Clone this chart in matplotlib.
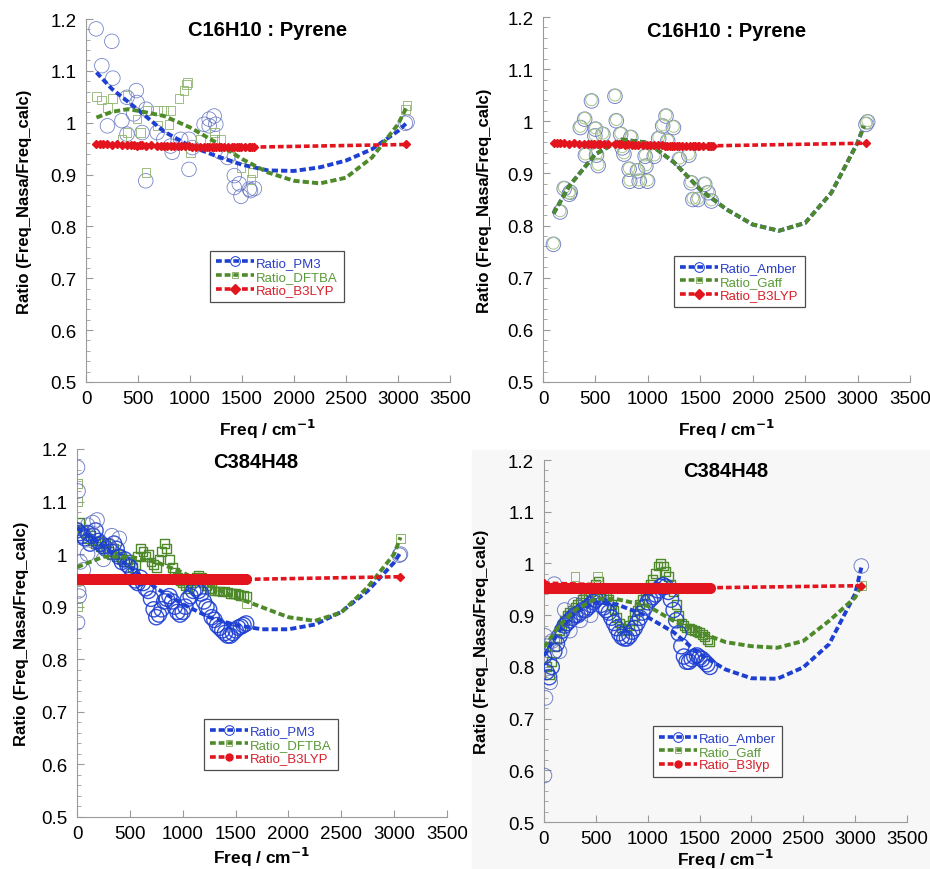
import matplotlib
matplotlib.use("Agg")
import matplotlib.pyplot as plt
from matplotlib.lines import Line2D
from matplotlib.patches import Rectangle
from matplotlib.ticker import MultipleLocator, FormatStrFormatter

plt.rcParams["font.family"] = ["Liberation Sans", "DejaVu Sans"]

BLUE = "#1d3fd2"
GREEN = "#4e8a2a"
RED = "#e3141e"
PALE_GREEN = "#8fb46e"

# ---------------- top-left: C16H10 Pyrene, PM3 / DFTBA / B3LYP ----------------
tl_pm3_f = [97, 152, 248, 258, 206, 345, 394, 484, 490, 458, 394, 539, 577, 574, 684, 748, 813,
            829, 910, 990, 990, 1023, 1135, 1184, 1232, 1248, 1184, 1297, 1361, 1426, 1426, 1474,
            1490, 1571, 1619, 1581, 3071, 3087]
tl_pm3_r = [1.181, 1.110, 1.157, 1.086, 0.994, 1.004, 1.049, 1.062, 1.039, 1.017, 0.978, 0.981,
            1.026, 0.888, 0.981, 0.968, 0.955, 0.943, 0.968, 0.968, 0.910, 0.952, 0.997, 1.007,
            1.013, 0.997, 0.994, 0.943, 0.933, 0.898, 0.875, 0.882, 0.858, 0.872, 0.873, 0.869,
            0.999, 1.001]
tl_dftba_f = [103, 152, 206, 255, 394, 345, 394, 523, 490, 577, 587, 684, 748, 813, 797, 684, 894,
              942, 968, 974, 1006, 1103, 1232, 1232, 1297, 1394, 1490, 1587, 1603, 3071, 3087]
tl_dftba_r = [1.051, 1.044, 1.029, 1.047, 1.052, 0.968, 0.981, 0.981, 1.007, 0.904, 1.023, 1.023,
              1.023, 1.023, 0.997, 0.994, 1.047, 1.062, 1.073, 1.078, 0.943, 0.968, 0.981, 0.968,
              0.968, 0.936, 0.914, 0.891, 0.904, 1.026, 1.033]
tl_b3lyp_f = [100, 130, 160, 200, 250, 300, 345, 394, 430, 460, 490, 520, 540, 580, 620, 684, 720,
              748, 780, 813, 850, 880, 910, 950, 990, 1023, 1060, 1100, 1135, 1160, 1184, 1210,
              1232, 1248, 1280, 1297, 1330, 1361, 1400, 1426, 1450, 1474, 1490, 1530, 1571, 1581,
              1600, 1619, 3080]
tl_b3lyp_r = [0.958, 0.959, 0.958, 0.958, 0.957, 0.958, 0.957, 0.957, 0.957, 0.957, 0.956, 0.957,
              0.957, 0.956, 0.957, 0.956, 0.956, 0.956, 0.955, 0.956, 0.955, 0.955, 0.955, 0.955,
              0.955, 0.954, 0.954, 0.954, 0.954, 0.953, 0.953, 0.953, 0.953, 0.953, 0.953, 0.953,
              0.953, 0.953, 0.953, 0.953, 0.953, 0.953, 0.953, 0.953, 0.953, 0.953, 0.953, 0.953,
              0.958]
tl_pm3_fit_f = [100, 250, 500, 750, 1000, 1250, 1500, 1750, 2000, 2250, 2500, 2750, 3000, 3080]
tl_pm3_fit_r = [1.097, 1.065, 1.025, 0.983, 0.955, 0.936, 0.919, 0.908, 0.907, 0.914, 0.927,
                0.949, 0.984, 0.999]
tl_dftba_fit_f = [100, 250, 400, 500, 750, 1000, 1250, 1500, 1750, 2000, 2250, 2500, 2750, 3000, 3080]
tl_dftba_fit_r = [1.010, 1.021, 1.026, 1.023, 1.013, 0.991, 0.962, 0.930, 0.904, 0.888, 0.883,
                  0.894, 0.933, 0.997, 1.029]

# ---------------- top-right: C16H10 Pyrene, Amber / Gaff / B3LYP ----------------
tr_amber_f = [99, 163, 202, 250, 260, 356, 397, 462, 404, 500, 494, 510, 526, 571, 686, 699, 740,
              756, 772, 837, 821, 827, 901, 917, 974, 981, 997, 1061, 1103, 1141, 1173, 1244,
              1189, 1301, 1391, 1413, 1429, 1478, 1542, 1574, 1606, 3080, 3096]
tr_amber_r = [0.764, 0.826, 0.871, 0.860, 0.864, 0.988, 1.004, 1.039, 0.935, 0.985, 0.972, 0.935,
              0.915, 0.975, 1.048, 1.001, 0.975, 0.949, 0.937, 0.969, 0.908, 0.885, 0.905, 0.885,
              0.933, 0.914, 0.885, 0.933, 0.967, 0.991, 1.010, 0.988, 0.962, 0.927, 0.935, 0.882,
              0.850, 0.850, 0.879, 0.863, 0.847, 0.994, 0.999]
tr_gaff_r = [0.766, 0.828, 0.873, 0.862, 0.866, 0.990, 1.006, 1.041, 0.937, 0.987, 0.974, 0.937,
             0.917, 0.977, 1.050, 1.003, 0.977, 0.951, 0.939, 0.971, 0.910, 0.887, 0.907, 0.887,
             0.935, 0.916, 0.887, 0.935, 0.969, 0.993, 1.012, 0.990, 0.964, 0.929, 0.937, 0.884,
             0.852, 0.852, 0.881, 0.865, 0.849, 0.996, 1.001]
tr_b3lyp_f = tl_b3lyp_f
tr_b3lyp_r = tl_b3lyp_r
tr_fit_f = [100, 250, 500, 750, 1000, 1250, 1500, 1750, 2000, 2250, 2500, 2750, 3000, 3060]
tr_amber_fit_r = [0.823, 0.876, 0.937, 0.965, 0.959, 0.921, 0.869, 0.831, 0.802, 0.790, 0.805,
                  0.863, 0.959, 0.991]
tr_gaff_fit_r = [0.823, 0.876, 0.937, 0.965, 0.959, 0.921, 0.869, 0.831, 0.802, 0.790, 0.805,
                 0.863, 0.959, 0.991]

# ---------------- bottom-left: C384H48, PM3 / DFTBA / B3LYP ----------------
grid_f = [0, 25, 50, 75, 100, 125, 150, 175, 200, 225, 250, 275, 300, 325, 350, 375, 400, 425,
          450, 475, 500, 525, 550, 575, 600, 625, 650, 675, 700, 725, 750, 775, 800, 825, 850,
          875, 900, 925, 950, 975, 1000, 1025, 1050, 1075, 1100, 1125, 1150, 1175, 1200, 1225,
          1250, 1275, 1300, 1325, 1350, 1375, 1400, 1425, 1450, 1475, 1500, 1525, 1550, 1575, 1600]
bl_pm3_r = [1.045, 1.040, 1.035, 1.030, 1.040, 1.020, 1.035, 1.045, 1.025, 1.020, 1.015, 1.010,
            1.015, 1.005, 1.020, 1.010, 0.995, 0.985, 0.990, 0.980, 0.975, 0.960, 0.950, 0.945,
            0.955, 0.945, 0.935, 0.930, 0.915, 0.895, 0.880, 0.885, 0.895, 0.910, 0.915, 0.920,
            0.910, 0.900, 0.890, 0.885, 0.890, 0.900, 0.915, 0.920, 0.930, 0.935, 0.930, 0.925,
            0.910, 0.900, 0.895, 0.880, 0.875, 0.865, 0.860, 0.855, 0.850, 0.845, 0.845, 0.850,
            0.855, 0.860, 0.862, 0.865, 0.868]
bl_pm3_extra_f = [5, 10, 5, 15, 20, 30, 60, 100, 190, 150, 100, 250, 330, 400, 3050, 3060]
bl_pm3_extra_r = [1.165, 1.120, 0.870, 0.930, 0.920, 0.985, 0.970, 1.000, 1.065, 1.060, 1.055,
                  0.990, 1.035, 1.030, 0.998, 1.000]
bl_dftba_r = [1.050, 1.060, 1.045, 1.040, 1.030, 1.035, 1.025, 1.020, 1.025, 1.015, 1.010, 1.020,
              1.005, 1.000, 1.010, 0.995, 1.000, 0.990, 0.985, 0.990, 0.985, 0.975, 0.980, 0.995,
              1.010, 1.005, 0.995, 1.000, 0.985, 0.980, 0.975, 0.990, 1.005, 1.020, 1.010, 0.990,
              0.975, 0.965, 0.955, 0.950, 0.945, 0.940, 0.935, 0.945, 0.950, 0.955, 0.960, 0.955,
              0.945, 0.940, 0.935, 0.935, 0.930, 0.930, 0.930, 0.928, 0.930, 0.928, 0.925, 0.925,
              0.925, 0.923, 0.922, 0.922, 0.920]
bl_dftba_extra_f = [5, 10, 8, 15, 1600, 3060]
bl_dftba_extra_r = [1.135, 1.100, 0.900, 0.950, 0.905, 1.030]
bl_b3lyp_r = [0.952] * 65
bl_pm3_fit_f = [0, 250, 500, 750, 1000, 1250, 1500, 1750, 2000, 2250, 2500, 2750, 3000, 3060]
bl_pm3_fit_r = [1.050, 1.015, 0.975, 0.935, 0.905, 0.880, 0.865, 0.857, 0.857, 0.866, 0.890,
                0.930, 0.984, 1.003]
bl_dftba_fit_r = [0.975, 0.995, 0.995, 0.985, 0.965, 0.940, 0.918, 0.899, 0.880, 0.873, 0.889,
                  0.937, 1.000, 1.032]
bl_b3lyp_end_f = [1600, 3060]
bl_b3lyp_end_r = [0.952, 0.957]

# ---------------- bottom-right: C384H48, Amber / Gaff / B3lyp ----------------
br_amber_r = [0.820, 0.790, 0.780, 0.800, 0.830, 0.845, 0.860, 0.870, 0.880, 0.885, 0.890, 0.895,
              0.900, 0.900, 0.905, 0.910, 0.910, 0.915, 0.920, 0.925, 0.930, 0.935, 0.920, 0.915,
              0.910, 0.905, 0.895, 0.885, 0.875, 0.865, 0.858, 0.855, 0.855, 0.860, 0.868, 0.875,
              0.885, 0.895, 0.905, 0.915, 0.925, 0.930, 0.935, 0.940, 0.948, 0.955, 0.958, 0.955,
              0.945, 0.930, 0.910, 0.890, 0.865, 0.840, 0.820, 0.810, 0.810, 0.815, 0.820, 0.822,
              0.818, 0.815, 0.810, 0.805, 0.800]
br_amber_extra_f = [5, 15, 10, 20, 60, 100, 80, 150, 200, 250, 300, 350, 400, 450, 3060]
br_amber_extra_r = [0.590, 0.740, 0.860, 0.840, 0.770, 0.960, 0.850, 0.830, 0.910, 0.870, 0.920,
                    0.890, 0.930, 0.900, 0.995]
br_gaff_r = [0.840, 0.800, 0.785, 0.810, 0.840, 0.855, 0.870, 0.880, 0.890, 0.900, 0.905, 0.910,
             0.915, 0.920, 0.925, 0.930, 0.935, 0.940, 0.945, 0.950, 0.960, 0.965, 0.950, 0.940,
             0.935, 0.930, 0.920, 0.910, 0.895, 0.885, 0.875, 0.870, 0.872, 0.880, 0.890, 0.900,
             0.910, 0.920, 0.930, 0.940, 0.950, 0.960, 0.970, 0.980, 0.995, 1.000, 0.995, 0.985,
             0.975, 0.960, 0.945, 0.920, 0.900, 0.885, 0.880, 0.875, 0.875, 0.872, 0.870, 0.868,
             0.866, 0.862, 0.858, 0.852, 0.848]
br_gaff_extra_f = [300, 520, 3060]
br_gaff_extra_r = [0.975, 0.975, 0.957]
br_b3lyp_r = [0.953] * 65
br_amber_fit_f = [0, 150, 300, 500, 700, 950, 1250, 1500, 1750, 2000, 2250, 2500, 2750, 3000, 3060]
br_amber_fit_r = [0.821, 0.870, 0.905, 0.925, 0.921, 0.902, 0.867, 0.825, 0.795, 0.778, 0.777,
                  0.799, 0.844, 0.941, 0.992]
br_gaff_fit_f = [0, 150, 300, 500, 700, 1000, 1250, 1500, 1750, 2000, 2250, 2500, 2750, 3000, 3060]
br_gaff_fit_r = [0.838, 0.880, 0.910, 0.932, 0.931, 0.918, 0.889, 0.867, 0.848, 0.840, 0.837,
                 0.850, 0.889, 0.934, 0.957]
br_b3lyp_end_f = [0, 1600, 3060]
br_b3lyp_end_r = [0.962, 0.953, 0.957]


def style_axes(ax, title, title_xy, ylabel_x, xlabel_y):
    ax.set_xlim(0, 3500)
    ax.set_ylim(0.5, 1.2)
    ax.xaxis.set_major_locator(MultipleLocator(500))
    ax.yaxis.set_major_locator(MultipleLocator(0.1))
    ax.yaxis.set_minor_locator(MultipleLocator(0.02))
    ax.yaxis.set_major_formatter(FormatStrFormatter("%g"))
    for side in ("top", "right"):
        ax.spines[side].set_visible(False)
    for side in ("left", "bottom"):
        ax.spines[side].set_color("#9a9a9a")
        ax.spines[side].set_linewidth(0.8)
    ax.tick_params(axis="both", which="major", direction="in", length=5,
                   color="#9a9a9a", labelsize=13.5)
    ax.tick_params(axis="y", which="major", pad=7)
    ax.tick_params(axis="x", which="major", pad=6)
    ax.tick_params(axis="y", which="minor", direction="in", length=3, color="#9a9a9a")
    ax.set_ylabel("Ratio (Freq_Nasa/Freq_calc)", fontsize=12, fontweight="bold")
    ax.set_xlabel("Freq / cm$^{\\mathbf{-1}}$", fontsize=12.5, fontweight="bold")
    ax.yaxis.set_label_coords(ylabel_x, 0.5)
    ax.xaxis.set_label_coords(0.5, xlabel_y)
    ax.text(title_xy[0], title_xy[1], title, transform=ax.transAxes, ha="center",
            va="center", fontsize=14.5, fontweight="bold")


def add_legend(ax, labels, markers, anchor):
    handles = [
        Line2D([], [], color=BLUE, ls=(0, (1.6, 0.8)), lw=2.6, marker=markers[0],
               mfc="none", mec=BLUE, ms=7, mew=0.7),
        Line2D([], [], color=GREEN, ls=(0, (1.6, 0.8)), lw=2.6, marker=markers[1],
               mfc="none", mec=PALE_GREEN, ms=5, mew=0.7),
        Line2D([], [], color=RED, ls=(0, (1.6, 0.8)), lw=2.6, marker=markers[2],
               mfc=RED, mec=RED, ms=5),
    ]
    leg = ax.legend(handles, labels, loc="upper left", bbox_to_anchor=anchor,
                    fontsize=9.5, frameon=True, fancybox=False, edgecolor="#222222",
                    handlelength=2.9, handletextpad=0.15, labelspacing=0.1,
                    borderpad=0.45, borderaxespad=0, numpoints=1)
    leg.get_frame().set_linewidth(0.9)
    for txt, col in zip(leg.get_texts(), ["#2a3fc8", "#5a9a38", "#d8202a"]):
        txt.set_color(col)


def draw_fit(ax, f, r, color, z=4):
    ax.plot(f, r, color=color, lw=2.8, ls=(0, (1.6, 0.8)), zorder=z)


fig = plt.figure(figsize=(9.3, 8.7), dpi=100)
fig.add_artist(Rectangle((472 / 930, 0), 1 - 472 / 930, 1 - 451 / 870,
                         transform=fig.transFigure, color="#f7f7f7", zorder=-5))

# top-left
ax = fig.add_axes([0.0925, 0.5598, 0.3914, 0.4172])
ax.patch.set_alpha(0)
ax.scatter(tl_pm3_f, tl_pm3_r, s=110, facecolors="none", edgecolors="#5566bb",
           linewidths=0.6, alpha=0.8, zorder=2)
ax.scatter(tl_dftba_f, tl_dftba_r, s=40, marker="s", facecolors="none",
           edgecolors=PALE_GREEN, linewidths=0.6, zorder=2)
draw_fit(ax, tl_pm3_fit_f, tl_pm3_fit_r, BLUE)
draw_fit(ax, tl_dftba_fit_f, tl_dftba_fit_r, GREEN)
ax.plot(tl_b3lyp_f, tl_b3lyp_r, color=RED, lw=2.6, ls=(0, (1.6, 0.8)), marker="D",
        ms=4.5, zorder=5)
style_axes(ax, "C16H10 : Pyrene", (0.5, 0.972), -0.148, -0.095)
add_legend(ax, ["Ratio_PM3", "Ratio_DFTBA", "Ratio_B3LYP"], ["o", "s", "D"], (0.341, 0.361))

# top-right
ax = fig.add_axes([0.5839, 0.5598, 0.3946, 0.4195])
ax.patch.set_alpha(0)
ax.scatter(tr_amber_f, tr_amber_r, s=110, facecolors="none", edgecolors="#5566bb",
           linewidths=0.7, alpha=0.8, zorder=2)
ax.scatter(tr_amber_f, tr_gaff_r, s=70, facecolors="none", edgecolors="#a9c48c",
           linewidths=0.7, zorder=2)
draw_fit(ax, tr_fit_f, tr_amber_fit_r, BLUE)
draw_fit(ax, tr_fit_f, tr_gaff_fit_r, GREEN)
ax.plot(tr_b3lyp_f, tr_b3lyp_r, color=RED, lw=2.6, ls=(0, (1.6, 0.8)), marker="D",
        ms=4.5, zorder=5)
style_axes(ax, "C16H10 : Pyrene", (0.5, 0.964), -0.139, -0.095)
add_legend(ax, ["Ratio_Amber", "Ratio_Gaff", "Ratio_B3LYP"], ["o", "s", "D"], (0.357, 0.345))

# bottom-left
ax = fig.add_axes([0.0828, 0.0598, 0.3978, 0.4230])
ax.patch.set_alpha(0)
ax.scatter(grid_f, bl_dftba_r, s=40, marker="s", facecolors="none", edgecolors=GREEN,
           linewidths=1.0, zorder=2)
ax.scatter(bl_dftba_extra_f, bl_dftba_extra_r, s=40, marker="s", facecolors="none",
           edgecolors=PALE_GREEN, linewidths=0.7, zorder=2)
ax.scatter(grid_f, bl_pm3_r, s=120, facecolors="none", edgecolors=BLUE,
           linewidths=1.0, alpha=0.9, zorder=3)
ax.scatter(bl_pm3_extra_f, bl_pm3_extra_r, s=110, facecolors="none", edgecolors="#5566bb",
           linewidths=0.7, alpha=0.8, zorder=3)
draw_fit(ax, bl_pm3_fit_f, bl_pm3_fit_r, BLUE)
draw_fit(ax, bl_pm3_fit_f, bl_dftba_fit_r, GREEN)
ax.plot(grid_f, bl_b3lyp_r, color=RED, lw=0, marker="o", ms=7, zorder=5)
ax.plot(bl_b3lyp_end_f, bl_b3lyp_end_r, color=RED, lw=2.6, ls=(0, (1.6, 0.8)),
        marker="D", ms=4.5, markevery=[1], zorder=5)
style_axes(ax, "C384H48", (0.484, 0.967), -0.130, -0.076)
add_legend(ax, ["Ratio_PM3", "Ratio_DFTBA", "Ratio_B3LYP"], ["o", "s", "o"], (0.343, 0.266))

# bottom-right
ax = fig.add_axes([0.5849, 0.0540, 0.3903, 0.4161])
ax.patch.set_alpha(0)
ax.scatter(grid_f, br_gaff_r, s=40, marker="s", facecolors="none", edgecolors=GREEN,
           linewidths=1.0, zorder=2)
ax.scatter(br_gaff_extra_f, br_gaff_extra_r, s=40, marker="s", facecolors="none",
           edgecolors=PALE_GREEN, linewidths=0.7, zorder=2)
ax.scatter(grid_f, br_amber_r, s=120, facecolors="none", edgecolors=BLUE,
           linewidths=1.0, alpha=0.9, zorder=3)
ax.scatter(br_amber_extra_f, br_amber_extra_r, s=110, facecolors="none", edgecolors="#5566bb",
           linewidths=0.7, alpha=0.8, zorder=3)
draw_fit(ax, br_amber_fit_f, br_amber_fit_r, BLUE)
draw_fit(ax, br_gaff_fit_f, br_gaff_fit_r, GREEN)
ax.plot(grid_f, br_b3lyp_r, color=RED, lw=0, marker="o", ms=7, zorder=5)
ax.plot(br_b3lyp_end_f, br_b3lyp_end_r, color=RED, lw=2.6, ls=(0, (1.6, 0.8)),
        marker="D", ms=4.5, markevery=[0, 2], zorder=5)
style_axes(ax, "C384H48", (0.5, 0.970), -0.152, -0.068)
add_legend(ax, ["Ratio_Amber", "Ratio_Gaff", "Ratio_B3lyp"], ["o", "s", "o"], (0.300, 0.265))

fig.savefig("out.png", dpi=100)
